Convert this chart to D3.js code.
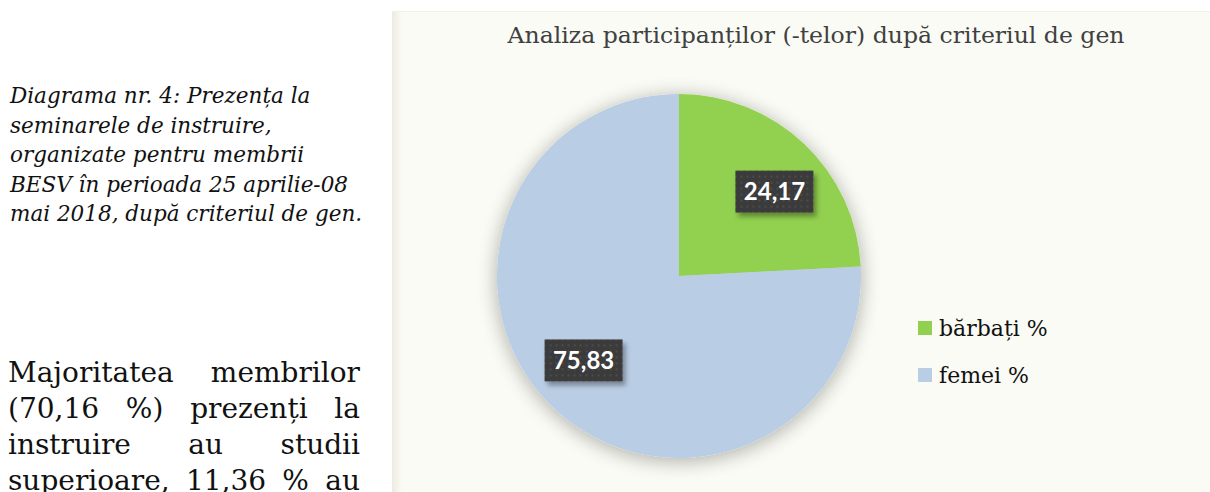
<!DOCTYPE html>
<html>
<head>
<meta charset="utf-8">
<script src="https://cdn.jsdelivr.net/npm/d3@7"></script>
<style>
  html, body { margin: 0; padding: 0; background: #fff; overflow: hidden; }
  body { width: 1210px; height: 492px; position: relative; }
  .caption {
    position: absolute; left: 10px; top: 81px; width: 380px;
    font-family: "DejaVu Serif", serif; font-style: italic; font-size: 21.5px;
    line-height: 29.5px; color: #111; white-space: nowrap;
  }
  .body-text {
    position: absolute; left: 8px; top: 355px; width: 352px;
    font-family: "DejaVu Serif", serif; font-size: 28px; line-height: 36px; color: #111;
  }
  .body-text div { text-align: justify; text-align-last: justify; white-space: nowrap; }
  #chart { position: absolute; left: 0; top: 0; }
</style>
</head>
<body>
<div class="caption" id="caption"></div>
<div class="body-text" id="body-text"></div>
<svg id="chart" width="1210" height="492"></svg>
<script>
"use strict";

const TITLE = "Analiza participanților (-telor) după criteriul de gen";
const categories = ["bărbați %", "femei %"];
const values = [24.17, 75.83];
const colors = ["#92d050", "#b9cde5"];

const captionLines = [
  "Diagrama nr. 4: Prezența la",
  "seminarele de instruire,",
  "organizate pentru membrii",
  "BESV în perioada 25 aprilie-08",
  "mai 2018, după criteriul de gen."
];
const bodyLines = [
  "Majoritatea membrilor",
  "(70,16 %) prezenți la",
  "instruire au studii",
  "superioare, 11,36 % au"
];

/* left-hand document text */
d3.select("#caption").selectAll("div").data(captionLines).join("div").text((d) => d);
d3.select("#body-text").selectAll("div").data(bodyLines).join("div").text((d) => d);

const svg = d3.select("#chart");
const panel = { x: 392, y: 11, w: 830, h: 500 };
const cx = 679, cy = 276, r = 182;

const defs = svg.append("defs");

/* panel edge shading */
const edge = defs.append("linearGradient").attr("id", "edge").attr("x1", 0).attr("x2", 1);
edge.append("stop").attr("offset", 0).attr("stop-color", "#ecebe2");
edge.append("stop").attr("offset", 1).attr("stop-color", "#fafbf4");

/* soft shadow around the pie */
const glow = defs.append("filter").attr("id", "glow")
  .attr("x", "-20%").attr("y", "-20%").attr("width", "140%").attr("height", "140%");
glow.append("feGaussianBlur").attr("in", "SourceAlpha").attr("stdDeviation", 10).attr("result", "b");
glow.append("feOffset").attr("in", "b").attr("dy", 3).attr("result", "o");
glow.append("feComponentTransfer").attr("in", "o").attr("result", "s")
  .append("feFuncA").attr("type", "linear").attr("slope", 0.32);
const gm = glow.append("feMerge");
gm.append("feMergeNode").attr("in", "s");
gm.append("feMergeNode").attr("in", "SourceGraphic");

/* label box shadow + dotted texture */
const boxShadow = defs.append("filter").attr("id", "boxShadow")
  .attr("x", "-20%").attr("y", "-20%").attr("width", "150%").attr("height", "160%");
boxShadow.append("feDropShadow").attr("dx", 3).attr("dy", 4).attr("stdDeviation", 2.5)
  .attr("flood-color", "#000").attr("flood-opacity", 0.35);

const dots = defs.append("pattern").attr("id", "dots").attr("patternUnits", "userSpaceOnUse")
  .attr("width", 6).attr("height", 6);
dots.append("rect").attr("width", 6).attr("height", 6).attr("fill", "#3b3b3b");
dots.append("rect").attr("x", 2).attr("y", 2).attr("width", 2).attr("height", 2).attr("fill", "#4c4c4c");

svg.append("rect")
  .attr("x", panel.x).attr("y", panel.y).attr("width", panel.w).attr("height", panel.h)
  .attr("fill", "#fafbf4");
svg.append("rect")
  .attr("x", panel.x).attr("y", panel.y).attr("width", 10).attr("height", panel.h)
  .attr("fill", "url(#edge)");
svg.append("line")
  .attr("x1", panel.x).attr("x2", panel.x + panel.w).attr("y1", panel.y + 0.5).attr("y2", panel.y + 0.5)
  .attr("stroke", "#f1efe4");

svg.append("text")
  .attr("x", 816).attr("y", 43)
  .attr("text-anchor", "middle")
  .attr("textLength", 617).attr("lengthAdjust", "spacingAndGlyphs")
  .style("font-family", "'DejaVu Serif', serif").style("font-size", "22px")
  .attr("fill", "#404040")
  .text(TITLE);

const pie = d3.pie().sort(null).value((d) => d);
const arcs = pie(values);
const arc = d3.arc().innerRadius(0).outerRadius(r);
/* labels sit a little clockwise of the slice middle, like the original */
const labelShift = 5 * Math.PI / 180;
const labelArc = d3.arc().innerRadius(r * 0.7).outerRadius(r * 0.7);
const labelPos = (d) => labelArc.centroid({
  startAngle: d.startAngle + labelShift,
  endAngle: d.endAngle + labelShift
});

const g = svg.append("g").attr("transform", `translate(${cx},${cy})`);
g.append("g").attr("filter", "url(#glow)")
  .selectAll("path").data(arcs).join("path")
  .attr("d", arc)
  .attr("fill", (d, i) => colors[i]);

const fmt = (v) => v.toFixed(2).replace(".", ",");
const label = g.selectAll("g.lbl").data(arcs).join("g")
  .attr("class", "lbl")
  .attr("transform", (d) => `translate(${labelPos(d)})`);
label.append("rect")
  .attr("x", -39).attr("y", -21).attr("width", 78).attr("height", 42)
  .attr("fill", "url(#dots)").attr("filter", "url(#boxShadow)");
label.append("text")
  .attr("text-anchor", "middle").attr("dy", "0.36em")
  .style("font-family", "Lato, sans-serif").style("font-weight", 700).style("font-size", "24px")
  .attr("fill", "#fff")
  .text((d) => fmt(d.data));

/* legend */
const legend = svg.append("g").attr("transform", "translate(918,321)");
const item = legend.selectAll("g").data(categories).join("g")
  .attr("transform", (d, i) => `translate(0,${i * 47})`);
item.append("rect").attr("width", 14).attr("height", 14).attr("fill", (d, i) => colors[i]);
item.append("text")
  .attr("x", 21).attr("y", 15)
  .style("font-family", "'DejaVu Serif', serif").style("font-size", "22px")
  .attr("fill", "#111")
  .text((d) => d);
</script>
</body>
</html>
